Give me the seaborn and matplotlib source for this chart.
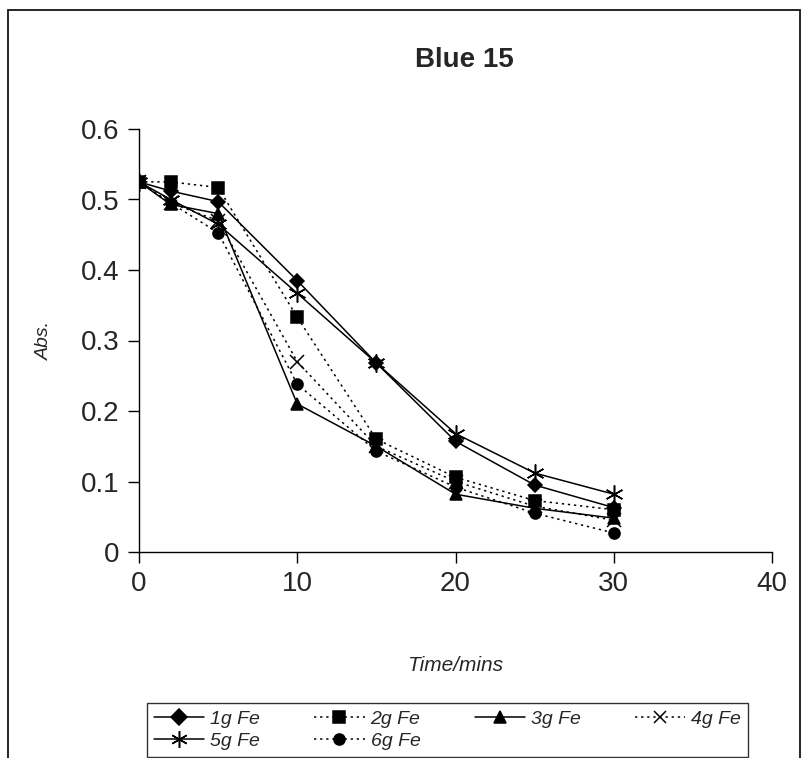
import matplotlib
matplotlib.use("Agg")
import matplotlib.pyplot as plt
import matplotlib.patches as patches
from matplotlib.ticker import FuncFormatter, MultipleLocator
import seaborn as sns
import pandas as pd

# data
time_mins = [0, 2, 5, 10, 15, 20, 25, 30]
fe_1g = [0.525, 0.512, 0.497, 0.385, 0.268, 0.157, 0.095, 0.063]
fe_2g = [0.525, 0.525, 0.517, 0.333, 0.160, 0.106, 0.073, 0.060]
fe_3g = [0.525, 0.493, 0.480, 0.210, 0.150, 0.082, 0.062, 0.048]
fe_4g = [0.525, 0.495, 0.470, 0.270, 0.150, 0.100, 0.065, 0.045]
fe_5g = [0.525, 0.500, 0.465, 0.367, 0.268, 0.168, 0.112, 0.082]
fe_6g = [0.525, 0.495, 0.453, 0.238, 0.143, 0.092, 0.055, 0.027]
series_labels = ["1g Fe", "2g Fe", "3g Fe", "4g Fe", "5g Fe", "6g Fe"]

df = pd.DataFrame({"time": time_mins})
for name, vals in zip(series_labels, [fe_1g, fe_2g, fe_3g, fe_4g, fe_5g, fe_6g]):
    df[name] = vals
df_long = df.melt(id_vars="time", var_name="dose", value_name="abs")

sns.set_style("white")
plt.rcParams["font.family"] = ["Liberation Sans", "DejaVu Sans"]

dotted = (0, (1.5, 2.5))
styles = {
    "1g Fe": dict(marker="D", ls="-", ms=7),
    "2g Fe": dict(marker="s", ls=dotted, ms=8),
    "3g Fe": dict(marker="^", ls="-", ms=8),
    "4g Fe": dict(marker="x", ls=dotted, ms=10),
    "5g Fe": dict(marker=(6, 2, 0), ls="-", ms=13),
    "6g Fe": dict(marker="o", ls=dotted, ms=8),
}

fig = plt.figure(figsize=(8.02, 7.58), dpi=100)
ax = fig.add_axes([139 / 802, 1 - 552 / 758, 633 / 802, 423 / 758])

for name in series_labels:
    st = styles[name]
    sns.lineplot(
        data=df_long[df_long["dose"] == name],
        x="time",
        y="abs",
        color="black",
        linewidth=1.1,
        linestyle=st["ls"],
        marker=st["marker"],
        markersize=st["ms"],
        markeredgecolor="black",
        markerfacecolor="black",
        markeredgewidth=1.1,
        label=name,
        ax=ax,
        legend=False,
    )

ax.set_xlim(0, 40)
ax.set_ylim(0, 0.6)
ax.xaxis.set_major_locator(MultipleLocator(10))
ax.yaxis.set_major_locator(MultipleLocator(0.1))
ax.yaxis.set_major_formatter(FuncFormatter(lambda v, p: f"{v:g}"))
sns.despine(ax=ax)
for side in ["left", "bottom"]:
    ax.spines[side].set_color("black")
    ax.spines[side].set_linewidth(1.0)
ax.tick_params(axis="both", direction="out", length=8, width=1.0, color="black",
               labelsize=20, pad=6, bottom=True, left=True)

ax.set_xlabel("Time/mins", fontsize=15, style="italic")
ax.set_ylabel("Abs.", fontsize=14, style="italic")
ax.xaxis.set_label_coords(0.5, -0.245)
ax.yaxis.set_label_coords(-0.136, 0.5)

fig.text(464 / 802, 1 - 60 / 758, "Blue 15", fontsize=20, fontweight="bold",
         ha="center", va="center")

# outer frame of the chart area
fig.patches.append(patches.Rectangle((8 / 802, -0.05), 792 / 802, 1.05 - 10 / 758,
                                     transform=fig.transFigure, fill=False,
                                     edgecolor="black", linewidth=1.2))

# legend filled row by row: 1g 2g 3g 4g / 5g 6g
handles, labels = ax.get_legend_handles_labels()
order = [0, 4, 1, 5, 2, 3]
leg = fig.legend([handles[i] for i in order], [labels[i] for i in order],
                 ncol=4, loc="lower left", mode="expand",
                 bbox_to_anchor=(147 / 802, 1 - 757 / 758, 601 / 802, 54 / 758),
                 borderaxespad=0,
                 prop={"style": "italic", "size": 14},
                 frameon=True, fancybox=False, edgecolor="black",
                 handlelength=2.6, borderpad=0.35,
                 labelspacing=0.25, handletextpad=0.3)
leg.get_frame().set_linewidth(1.0)
for h in leg.legend_handles:
    h.set_markersize(12 if h.get_marker() == (6, 2, 0) else 8)

fig.savefig("out.png", dpi=100)
